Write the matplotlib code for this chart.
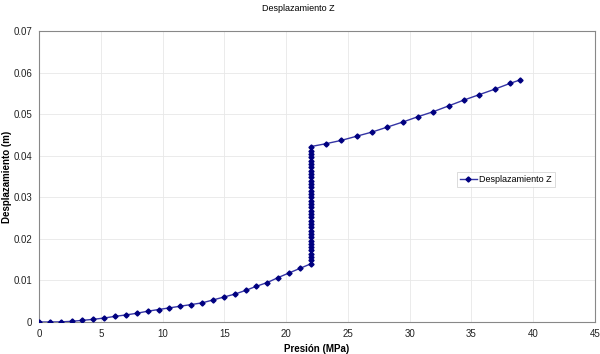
import numpy as np
import matplotlib
matplotlib.use('Agg')
import matplotlib.pyplot as plt

# lower branch (before jump)
p_low = [0.0, 0.88, 1.76, 2.64, 3.52, 4.40, 5.28, 6.16, 7.04, 7.92, 8.80, 9.68,
         10.56, 11.44, 12.32, 13.20, 14.08, 14.96, 15.84, 16.72, 17.60, 18.48,
         19.36, 20.24, 21.12]
z_low = [0.0, 0.0, 0.00003, 0.00016, 0.0004, 0.00064, 0.00096, 0.00136, 0.0017,
         0.0021, 0.0026, 0.0030, 0.0034, 0.0038, 0.0042, 0.0046, 0.0053, 0.0060,
         0.0067, 0.0076, 0.0086, 0.0095, 0.0107, 0.0118, 0.0129]

# vertical jump at 22 MPa
z_jump = [0.0140, 0.0148, 0.0156, 0.0164, 0.0172, 0.0180, 0.0188, 0.0196, 0.0204,
          0.0212, 0.0220, 0.0228, 0.0236, 0.0244, 0.0252, 0.0260, 0.0268, 0.0276,
          0.0284, 0.0292, 0.0300, 0.0308, 0.0316, 0.0324, 0.0332, 0.0340, 0.0348,
          0.0356, 0.0364, 0.0372, 0.0380, 0.0388, 0.0396, 0.0404, 0.0412, 0.0422]
p_jump = [22.0] * len(z_jump)

# upper branch (after jump)
p_high = [23.24, 24.48, 25.72, 26.96, 28.20, 29.44, 30.68, 31.92, 33.16, 34.40,
          35.64, 36.88, 38.12, 38.90]
z_high = [0.0429, 0.0437, 0.0447, 0.0457, 0.0469, 0.0481, 0.0494, 0.0506, 0.0520,
          0.0534, 0.0547, 0.0560, 0.0574, 0.0582]

presion = p_low + p_jump + p_high
desplaz = z_low + z_jump + z_high

plt.rcParams['font.family'] = ['Liberation Sans', 'DejaVu Sans']

fig = plt.figure(figsize=(6.0, 3.54), dpi=100, facecolor='white')
ax = fig.add_axes([0.065, 0.0904, 0.9267, 0.822])

ax.plot(presion, desplaz, color='#3535a5', linewidth=1.0, marker='D',
        markersize=2.6, markerfacecolor='#000080', markeredgecolor='#000080',
        label='Desplazamiento Z', zorder=3)

ax.set_xlim(0, 45)
ax.set_ylim(0, 0.07)
ax.set_xticks(np.arange(0, 46, 5))
ax.set_yticks([0, 0.01, 0.02, 0.03, 0.04, 0.05, 0.06, 0.07])
ax.set_yticklabels(['0', '0.01', '0.02', '0.03', '0.04', '0.05', '0.06', '0.07'])
ax.tick_params(labelsize=7, length=0, pad=5, colors='#222222')
ax.grid(color='#e8e8e8', linewidth=0.6)
for s in ax.spines.values():
    s.set_color('#888888')
    s.set_linewidth(0.8)

leg = ax.legend(loc='upper left', bbox_to_anchor=(0.752, 0.515), fontsize=6.5,
                frameon=True, fancybox=False, handlelength=1.8,
                handletextpad=0.3, borderpad=0.35, borderaxespad=0)
leg.get_frame().set_edgecolor('#cccccc')
leg.get_frame().set_linewidth(0.6)

fig.text(0.497, 0.977, 'Desplazamiento Z', fontsize=6.5, ha='center', va='center')
fig.text(0.528, 0.014, 'Presión (MPa)', fontsize=7, fontweight='bold',
         ha='center', va='center')
fig.text(0.011, 0.5, 'Desplazamiento (m)', fontsize=7, fontweight='bold',
         rotation=90, ha='center', va='center')

plt.savefig('out.png', dpi=100, facecolor='white')
